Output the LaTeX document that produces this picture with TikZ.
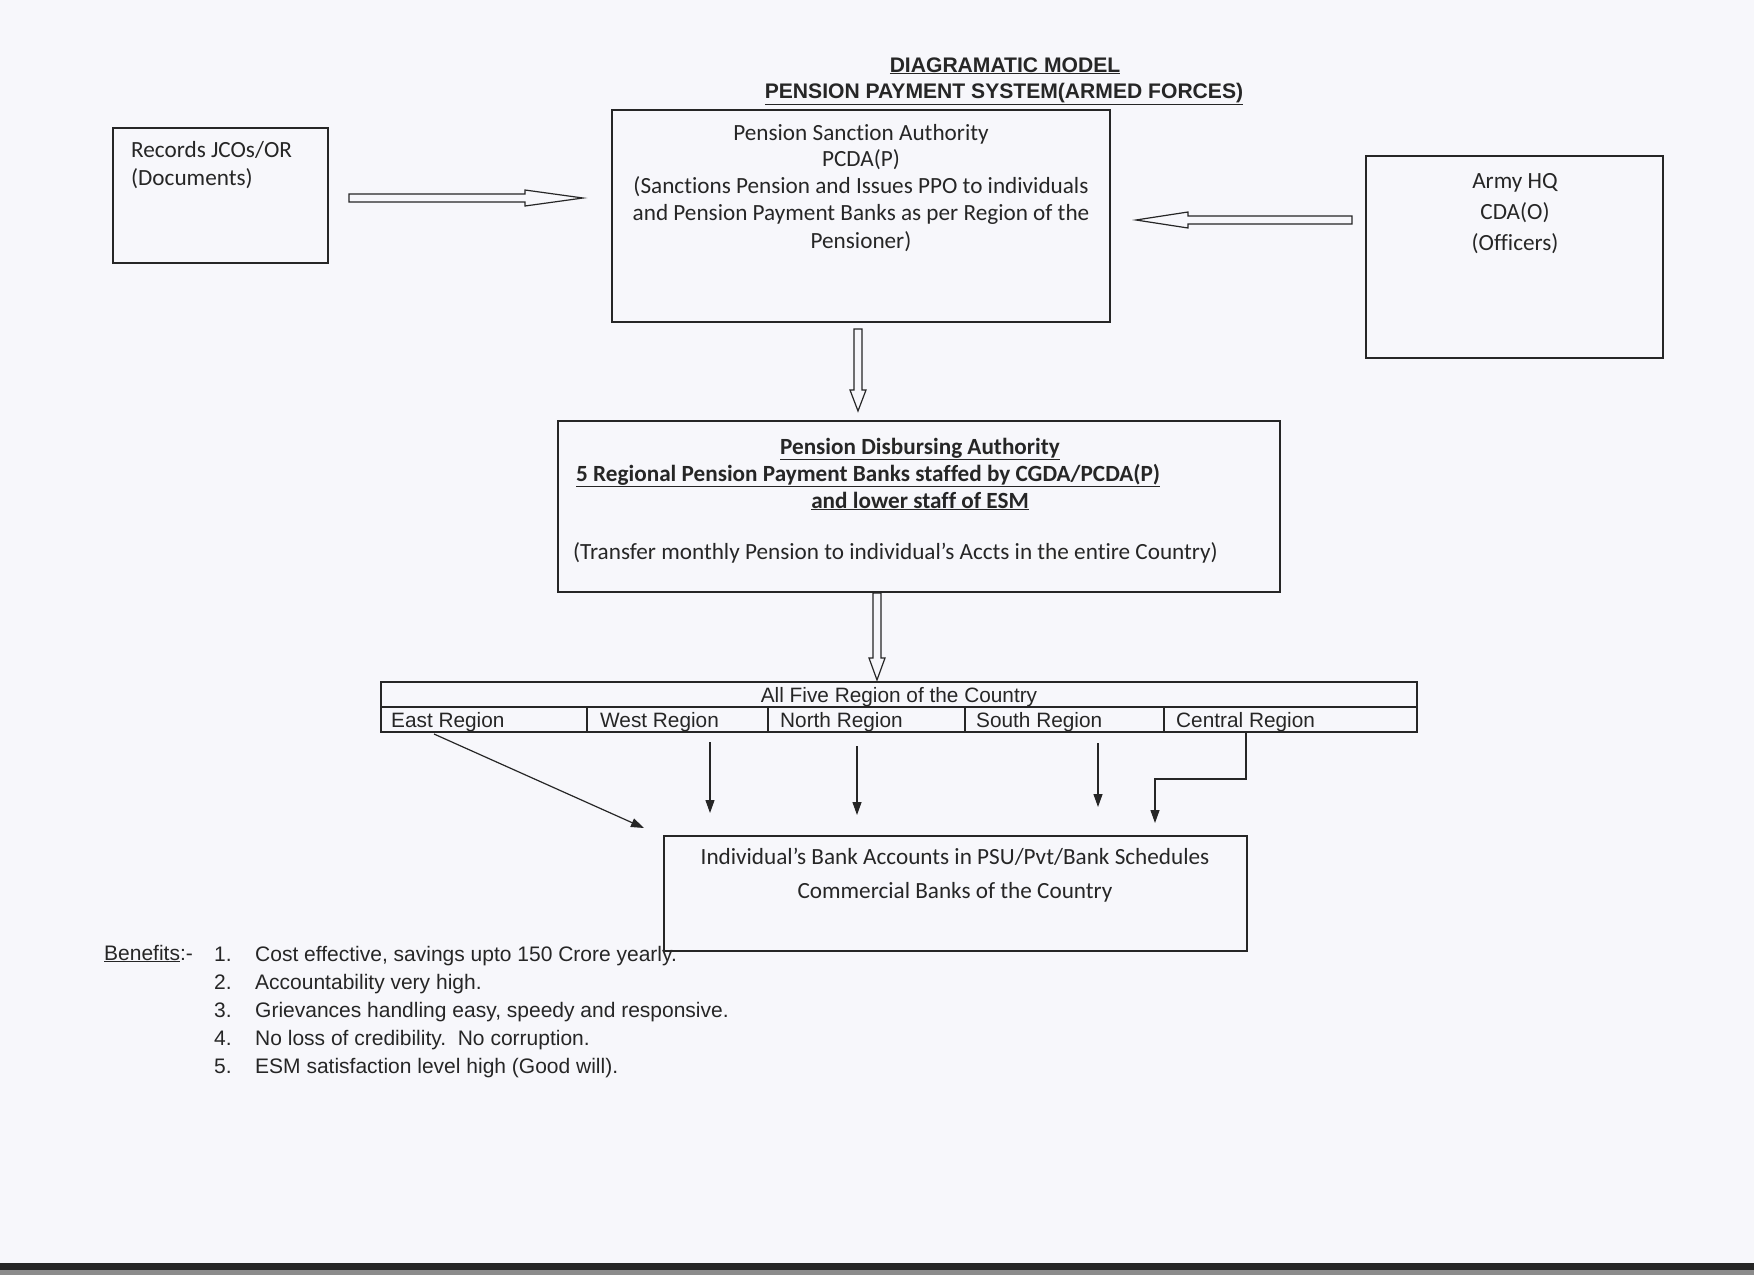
\documentclass[tikz,border=0pt]{standalone}
\usepackage{fontspec}
\setmainfont[Ligatures=NoCommon]{Carlito}
\newfontfamily\arial{Liberation Sans}
\usetikzlibrary{calc,arrows.meta}
\definecolor{paper}{HTML}{F7F7FB}
\definecolor{ink}{HTML}{262626}
\newcommand\hollowarrow[3]{%
  \coordinate (hb) at ($(#2)!#3!(#1)$);
  \draw[hol] ($(#1)!4pt!90:(#2)$) -- ($(hb)!4pt!-90:(#1)$) -- ($(hb)!8pt!-90:(#1)$) -- (#2)
    -- ($(hb)!8pt!90:(#1)$) -- ($(hb)!4pt!90:(#1)$) -- ($(#1)!4pt!-90:(#2)$) -- cycle;}
\begin{document}
\begin{tikzpicture}[x=1pt,y=-1pt,
  box/.style={draw=ink, line width=1.5pt, inner sep=0, rectangle},
  hol/.style={draw=ink, line width=1.2pt, fill=paper, line join=miter},
  conn/.style={draw=ink, line width=1.2pt, -{Triangle[length=13pt,width=9pt]}},
  t/.style={inner sep=0, text=ink, anchor=base, font=\fontsize{23.2}{27}\selectfont},
  tl/.style={t, anchor=base west},
  tb/.style={t, font=\fontsize{23.2}{27}\selectfont\bfseries},
  tbl/.style={tb, anchor=base west},
  ttl/.style={inner sep=0, text=ink, anchor=base, font=\arial\fontsize{21.1}{26}\selectfont\bfseries},
  rg/.style={inner sep=0, text=ink, anchor=base west, font=\arial\fontsize{20.8}{24}\selectfont},
  bn/.style={inner sep=0, text=ink, anchor=base west, font=\arial\fontsize{21}{25}\selectfont}]
\fill[paper] (0,0) rectangle (1754,1275);
\useasboundingbox (0,0) rectangle (1754,1275);
\fill[black!85] (0,1263) rectangle (1754,1270);
\fill[black!45] (0,1270) rectangle (1754,1275);

% title
\node[ttl] (t1) at (1005,72) {\underline{DIAGRAMATIC MODEL}};
\node[ttl] (t2) at (1004,98) {\underline{PENSION PAYMENT SYSTEM(ARMED FORCES)}};

% boxes
\node[box, minimum width=215pt, minimum height=135pt] (rec) at (220.5,195.5) {};
\node[box, minimum width=498pt, minimum height=212pt] (psa) at (861,216) {};
\node[box, minimum width=297pt, minimum height=202pt] (army) at (1514.5,257) {};
\node[box, minimum width=722pt, minimum height=171pt] (pda) at (919,506.5) {};
\node[box, minimum width=583pt, minimum height=115pt] (bank) at (955.5,893.5) {};

% records text
\node[tl] (r1) at (131,157) {Records JCOs/OR};
\node[tl] (r2) at (131,185) {(Documents)};

% PSA text
\node[t] (p1) at (861,140) {Pension Sanction Authority};
\node[t] (p2) at (861,166) {PCDA(P)};
\node[t] (p3) at (861,193) {(Sanctions Pension and Issues PPO to individuals};
\node[t] (p4) at (861,220) {and Pension Payment Banks as per Region of the};
\node[t] (p5) at (861,248) {Pensioner)};

% Army text
\node[t] (a1) at (1515,188) {Army HQ};
\node[t] (a2) at (1515,219) {CDA(O)};
\node[t] (a3) at (1515,250) {(Officers)};

% PDA text
\node[tb] (d1) at (920,454) {\underline{Pension Disbursing Authority}};
\node[tbl] (d2) at (576,481) {\underline{5 Regional Pension Payment Banks staffed by CGDA/PCDA(P)}};
\node[tb] (d3) at (920,508) {\underline{and lower staff of ESM}};
\node[tl] (d4) at (573,559) {(Transfer monthly Pension to individual’s Accts in the entire Country)};

% bank text
\node[t] (b1) at (955,864) {Individual’s Bank Accounts in PSU/Pvt/Bank Schedules};
\node[t] (b2) at (955,898) {Commercial Banks of the Country};

% regions table
\draw[ink, line width=1.2pt] (381,682) rectangle (1417,732);
\draw[ink, line width=1.2pt] (381,707) -- (1417,707);
\foreach \xx in {587,768,965,1164} \draw[ink, line width=1.2pt] (\xx,707) -- (\xx,732);
\node[rg, anchor=base] (all) at (899,702) {All Five Region of the Country};
\node[rg] (east) at (391,727) {East Region};
\node[rg] (west) at (600,727) {West Region};
\node[rg] (north) at (780,727) {North Region};
\node[rg] (south) at (976,727) {South Region};
\node[rg] (central) at (1176,727) {Central Region};

% hollow arrows
\coordinate (h1s) at (349,198); \coordinate (h1e) at (583,198);
\coordinate (h2s) at (1352,220); \coordinate (h2e) at (1136,220);
\coordinate (h3s) at (858,329); \coordinate (h3e) at (858,411);
\coordinate (h4s) at (877,593); \coordinate (h4e) at (877,680);
\hollowarrow{h1s}{h1e}{58pt}
\hollowarrow{h2s}{h2e}{52pt}
\hollowarrow{h3s}{h3e}{21pt}
\hollowarrow{h4s}{h4e}{22pt}

% region arrows
\coordinate (eA) at (434,734); \coordinate (eB) at (644,828);
\coordinate (wA) at (710,742); \coordinate (wB) at (710,813);
\coordinate (nA) at (857,746); \coordinate (nB) at (857,815);
\coordinate (sA) at (1098,743); \coordinate (sB) at (1098,807);
\coordinate (cA) at (1246,733); \coordinate (cB) at (1246,779);
\coordinate (cC) at (1155,779); \coordinate (cD) at (1155,823);
\draw[conn] (eA) -- (eB);
\draw[conn] (wA) -- (wB);
\draw[conn] (nA) -- (nB);
\draw[conn] (sA) -- (sB);
\draw[conn] (cA) -- (cB) -- (cC) -- (cD);

% benefits
\node[bn] (ben) at (104,960) {\underline{Benefits}:-};
\node[bn] (n1) at (214,961) {1.};
\node[bn] (n2) at (214,989) {2.};
\node[bn] (n3) at (214,1017) {3.};
\node[bn] (n4) at (214,1045) {4.};
\node[bn] (n5) at (214,1073) {5.};
\node[bn] (l1) at (255,961) {Cost effective, savings upto 150 Crore yearly.};
\node[bn] (l2) at (255,989) {Accountability very high.};
\node[bn] (l3) at (255,1017) {Grievances handling easy, speedy and responsive.};
\node[bn] (l4) at (255,1045) {No loss of credibility.\ \ No corruption.};
\node[bn] (l5) at (255,1073) {ESM satisfaction level high (Good will).};
\end{tikzpicture}
\end{document}
